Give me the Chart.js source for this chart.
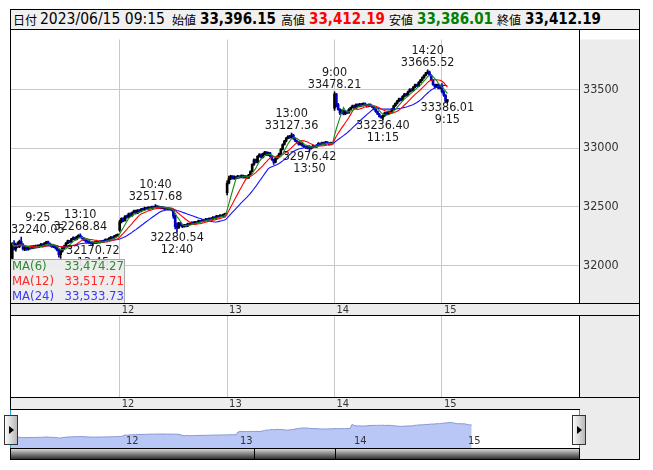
<!DOCTYPE html>
<html><head><meta charset="utf-8">
<script src="https://cdn.jsdelivr.net/npm/chart.js@4.4.0/dist/chart.umd.min.js"></script>
<style>
html,body{margin:0;padding:0;background:#fff;}
#wrap{position:relative;width:653px;height:470px;overflow:hidden;font-family:"DejaVu Sans Condensed","DejaVu Sans",sans-serif;}
#hdr{position:absolute;left:10px;top:9px;width:630px;height:21px;box-sizing:border-box;border:1px solid #000;background:#f0f0f0;}
.hs{position:absolute;top:9px;line-height:21px;white-space:nowrap;color:#000;}
.k{font-family:"Noto Sans CJK JP",sans-serif;font-size:12px;}
.d{font-size:15.5px;}
.v{font-size:15px;font-weight:bold;}
canvas{position:absolute;}
.box{position:absolute;box-sizing:border-box;}
.btn{position:absolute;width:14px;height:30px;box-sizing:border-box;border:1px solid #333;background:linear-gradient(to right,#fafafa,#b8b8b8);}
.btn:after{content:"";position:absolute;left:4px;top:10px;width:0;height:0;border-top:4px solid transparent;border-bottom:4px solid transparent;border-left:5px solid #000;}
</style></head>
<body>
<div id="wrap">
  <div id="hdr"></div>
  <span class="hs k" style="left:13px">日付</span>
  <span class="hs d" id="hDate" style="left:40px"></span>
  <span class="hs k" style="left:172px">始値</span>
  <span class="hs v" id="hO" style="left:200px"></span>
  <span class="hs k" style="left:281px">高値</span>
  <span class="hs v" id="hH" style="left:309px;color:#ff0000"></span>
  <span class="hs k" style="left:389px">安値</span>
  <span class="hs v" id="hL" style="left:417px;color:#008000"></span>
  <span class="hs k" style="left:497px">終値</span>
  <span class="hs v" id="hC" style="left:525px"></span>

  <canvas id="main" width="630" height="287" style="left:10px;top:29px"></canvas>
  <canvas id="sub" width="630" height="94" style="left:10px;top:316px"></canvas>
  <div class="box" style="left:10px;top:410px;width:570px;height:38px;background:#fff;"></div>
  <canvas id="nav" width="570" height="38" style="left:10px;top:410px"></canvas>
  <div class="box" style="left:580px;top:409px;width:60px;height:51px;background:#ececec;border-right:1px solid #000;border-bottom:1px solid #000;"></div>
  <div class="box" style="left:10px;top:410px;width:1px;height:38px;background:#19a8d8;"></div>
  <div class="box" style="left:579px;top:410px;width:1px;height:38px;background:#19a8d8;"></div>
  <div class="box" style="left:10px;top:448px;width:570px;height:12px;border:1px solid #000;background:linear-gradient(to bottom,#d8d8d8 0%,#8a8a8a 45%,#303030 100%);"></div>
  <div class="box" style="left:254px;top:448px;width:1px;height:12px;background:#000;"></div>
  <div class="box" style="left:335px;top:448px;width:1px;height:12px;background:#000;"></div>
  <div class="btn" style="left:4px;top:415px"></div>
  <div class="btn" style="left:572px;top:415px"></div>
</div>
<script>
// ---------- data (5-minute candles: [open, high, low, close]) ----------
const jun09 = [
[32060,32195,32035,32185],[32185,32210,32130,32140],[32140,32190,32120,32180],[32180,32200,32150,32160],
[32160,32215,32150,32205],[32205,32240.05,32170,32175],[32175,32185,32130,32140],[32140,32165,32125,32150],
[32150,32160,32128,32135],[32135,32162,32130,32155],[32155,32166,32138,32145],[32145,32168,32140,32160],
[32160,32170,32142,32150],[32150,32172,32146,32165],[32165,32174,32148,32155],[32155,32178,32150,32170],
[32170,32188,32162,32180],[32180,32186,32158,32165],[32165,32195,32160,32190],[32190,32205,32182,32200],
[32200,32206,32178,32185],[32185,32192,32168,32175],[32175,32180,32152,32160],[32160,32172,32150,32165],
[32165,32170,32140,32150],[32150,32156,32122,32130],[32130,32136,32070,32090],[32090,32125,32060,32120],
[32120,32156,32112,32150],[32150,32172,32140,32165],
[32165,32196,32158,32190],[32190,32216,32182,32210],[32210,32214,32192,32200],[32200,32230,32196,32225],
[32225,32242,32218,32235],[32235,32240,32214,32220],[32220,32250,32216,32245],[32245,32262,32238,32255],
[32255,32268.84,32234,32240],[32240,32246,32224,32230],[32230,32236,32210,32215],[32215,32220,32198,32205],
[32205,32212,32194,32200],[32200,32206,32184,32190],[32190,32196,32178,32185],[32185,32200,32170.72,32195],
[32195,32202,32184,32190],[32190,32206,32186,32200],[32200,32205,32188,32195],[32195,32210,32190,32205],
[32205,32210,32194,32200],[32200,32216,32196,32210],[32210,32226,32206,32220],[32220,32224,32208,32215],
[32215,32236,32212,32230],[32230,32246,32226,32240],[32240,32244,32228,32235],[32235,32256,32232,32250],
[32250,32262,32246,32258],[32258,32266,32250,32262]
];
const jun12 = [
[32300,32385,32290,32370],[32370,32405,32362,32400],[32400,32408,32372,32380],[32380,32425,32376,32420],
[32420,32428,32402,32410],[32410,32446,32405,32440],[32440,32448,32418,32425],[32425,32456,32420,32450],
[32450,32470,32444,32465],[32465,32470,32438,32445],[32445,32475,32440,32470],[32470,32476,32452,32460],
[32460,32486,32456,32480],[32480,32488,32468,32475],[32475,32496,32470,32490],[32490,32494,32474,32480],
[32480,32500,32476,32495],[32495,32500,32478,32485],[32485,32506,32480,32500],[32500,32506,32488,32495],
[32495,32517.68,32490,32505],[32505,32510,32484,32490],[32490,32506,32486,32500],[32500,32504,32480,32485],
[32485,32500,32480,32495],[32495,32498,32474,32480],[32480,32495,32476,32490],[32490,32494,32470,32475],
[32475,32486,32470,32480],[32480,32485,32464,32470],
[32470,32474,32400,32420],[32420,32428,32310,32330],[32340,32362,32280.54,32320],[32320,32366,32314,32360],
[32360,32364,32334,32340],[32340,32348,32322,32330],[32330,32350,32326,32345],[32345,32350,32328,32335],
[32335,32360,32330,32355],[32355,32360,32342,32350],[32350,32370,32346,32365],[32365,32370,32352,32360],
[32360,32376,32356,32370],[32370,32374,32358,32365],[32365,32386,32360,32380],[32380,32384,32368,32375],
[32375,32390,32370,32385],[32385,32388,32372,32380],[32380,32400,32376,32395],[32395,32398,32382,32390],
[32390,32406,32386,32400],[32400,32404,32388,32395],[32395,32416,32390,32410],[32410,32414,32398,32405],
[32405,32426,32400,32420],[32420,32424,32408,32415],[32415,32432,32410,32425],[32425,32430,32412,32420],
[32420,32440,32416,32435],[32435,32446,32428,32440]
];
const jun13 = [
[32620,32720,32600,32700],[32700,32760,32694,32740],[32740,32768,32730,32760],[32760,32766,32734,32740],
[32740,32762,32732,32755],[32755,32760,32736,32745],[32745,32768,32740,32760],[32760,32764,32742,32750],
[32750,32772,32746,32765],[32765,32770,32744,32750],[32750,32766,32744,32760],[32760,32764,32738,32745],
[32745,32776,32740,32770],[32770,32806,32764,32800],[32800,32866,32796,32860],[32860,32908,32852,32900],
[32900,32906,32872,32880],[32880,32936,32874,32930],[32930,32952,32922,32945],[32945,32950,32914,32920],
[32920,32956,32916,32950],[32950,32972,32944,32965],[32965,32970,32934,32940],[32940,32966,32934,32960],
[32960,32964,32924,32930],[32930,32936,32894,32900],[32900,32906,32860,32880],[32880,32916,32874,32910],
[32910,32936,32904,32930],[32930,32956,32924,32950],
[32950,32996,32944,32990],[32990,33036,32984,33030],[33030,33066,33024,33060],[33060,33090,33052,33085],
[33085,33106,33078,33100],[33100,33108,33082,33090],[33090,33127.36,33086,33110],[33110,33116,33074,33080],
[33080,33086,33054,33060],[33060,33066,33042,33050],[33050,33056,33024,33030],[33030,33046,33024,33040],
[33040,33046,33014,33020],[33020,33026,33004,33010],[33010,33016,32994,33000],[33000,33020,32992,33015],
[33015,33020,32976.42,32995],[32995,33010,32990,33005],[33005,33026,33000,33020],[33020,33024,33004,33010],
[33010,33030,33006,33025],[33025,33046,33020,33040],[33040,33044,33024,33030],[33030,33050,33026,33045],
[33045,33050,33030,33035],[33035,33056,33030,33050],[33050,33054,33034,33040],[33040,33046,33024,33030],
[33030,33050,33026,33045],[33045,33050,33034,33040]
];
const jun14 = [
[33340,33478.21,33320,33460],[33460,33466,33350,33370],[33370,33380,33322,33330],[33330,33336,33285,33300],
[33300,33326,33292,33320],[33320,33326,33282,33290],[33290,33316,33284,33310],[33310,33316,33292,33300],
[33300,33336,33296,33330],[33330,33350,33324,33345],[33345,33366,33340,33360],[33360,33366,33334,33340],
[33340,33376,33336,33370],[33370,33376,33348,33355],[33355,33380,33350,33375],[33375,33380,33354,33360],
[33360,33386,33356,33380],[33380,33386,33360,33365],[33365,33370,33348,33355],[33355,33376,33350,33370],
[33370,33376,33354,33360],[33360,33366,33344,33350],[33350,33356,33324,33330],[33330,33336,33304,33310],
[33310,33316,33284,33290],[33290,33296,33264,33270],[33270,33276,33252,33260],[33260,33282,33236.40,33275],
[33275,33306,33270,33300],[33300,33306,33284,33290],
[33290,33316,33284,33310],[33310,33316,33294,33300],[33300,33336,33296,33330],[33330,33366,33324,33360],
[33360,33386,33354,33380],[33380,33406,33374,33400],[33400,33426,33394,33420],[33420,33426,33402,33410],
[33410,33446,33404,33440],[33440,33466,33434,33460],[33460,33466,33442,33450],[33450,33486,33444,33480],
[33480,33506,33474,33500],[33500,33506,33482,33490],[33490,33526,33484,33520],[33520,33546,33514,33540],
[33540,33546,33522,33530],[33530,33566,33524,33560],[33560,33586,33554,33580],[33580,33606,33574,33600],
[33600,33626,33594,33620],[33620,33646,33614,33640],[33640,33665.52,33632,33650],[33650,33656,33614,33620],
[33620,33626,33574,33580],[33580,33586,33534,33540],[33540,33546,33510,33520],[33520,33546,33514,33540],
[33540,33546,33504,33510],[33510,33536,33504,33530]
];
const jun15 = [
[33530,33550,33470,33480],[33480,33490,33440,33450],[33450,33456,33395,33400],[33396.15,33412.19,33386.01,33412.19]
];
const dayLabels = ['12','13','14','15'];
const headerDate = '2023/06/15 09:15';
const yTicks = [32000, 32500, 33000, 33500];
const pivotBars   = [5, 38, 45, 80, 92, 156, 166, 180, 207, 232, 243];
const pivotTimes  = ['9:25','13:10','13:45','10:40','12:40','13:00','13:50','9:00','11:15','14:20','9:15'];
const pivotPrices = [32240.05,32268.84,32170.72,32517.68,32280.54,33127.36,32976.42,33478.21,33236.40,33665.52,33386.01];
const pivotKinds  = ['H','H','L','H','L','H','L','H','L','H','L'];
const maPeriods = [6, 12, 24];
const maNames = ['MA(6)','MA(12)','MA(24)'];
const maLegendValues = ['33,474.27','33,517.71','33,533.73'];

// ---------- derived ----------
const days = [jun09, jun12, jun13, jun14, jun15];
const candles = [].concat(...days);
const dayStarts = [];
{ let n = 0; days.forEach((d, k) => { if (k > 0) dayStarts.push(n); n += d.length; }); }
const closes = candles.map(c => c[3]);
function movingAverage(p) {
  return closes.map((_, i) => {
    const s = closes.slice(Math.max(0, i - p + 1), i + 1);
    return s.reduce((a, b) => a + b, 0) / s.length;
  });
}
const maColors = ['#168a16', '#ff0000', '#1414ff'];
const maTextColors = ['#2f8a2f', '#ff2a2a', '#3a3aff'];
const upColor = '#000000', downColor = '#0000c0';
const candleColor = candles.map(c => c[3] >= c[0] ? upColor : downColor);

// header
const last = candles[candles.length - 1];
const fmt = v => v.toLocaleString('en-US', {minimumFractionDigits: 2, maximumFractionDigits: 2});
document.getElementById('hDate').textContent = headerDate;
document.getElementById('hO').textContent = fmt(last[0]);
document.getElementById('hH').textContent = fmt(last[1]);
document.getElementById('hL').textContent = fmt(last[2]);
document.getElementById('hC').textContent = fmt(last[3]);

const FONT = '"DejaVu Sans Condensed","DejaVu Sans",sans-serif';

// ---------- shared panel plugin ----------
function panelPlugin(opts) {
  return {
    id: 'panel',
    beforeDraw(chart) {
      const {ctx, chartArea: ca, width, height} = chart;
      ctx.save();
      ctx.fillStyle = '#fff'; ctx.fillRect(0, 0, width, height);
      ctx.fillStyle = '#ececec';
      ctx.fillRect(ca.right, ca.top, width - ca.right, ca.bottom - ca.top);
      ctx.fillRect(0, ca.bottom, width, height - ca.bottom);
      ctx.restore();
    },
    afterDraw(chart) {
      const {ctx, chartArea: ca, width, height, scales: {x}} = chart;
      ctx.save();
      ctx.font = '11px ' + FONT; ctx.fillStyle = '#333';
      ctx.textBaseline = 'middle'; ctx.textAlign = 'left';
      dayStarts.forEach((v, k) => ctx.fillText(dayLabels[k], x.getPixelForValue(v) + 2, ca.bottom + 7));
      ctx.strokeStyle = '#000'; ctx.lineWidth = 1;
      ctx.beginPath();
      if (opts.top) { ctx.moveTo(0, 0.5); ctx.lineTo(width, 0.5); }
      ctx.moveTo(0.5, 0); ctx.lineTo(0.5, height);
      ctx.moveTo(width - 0.5, 0); ctx.lineTo(width - 0.5, height);
      ctx.moveTo(Math.round(ca.right) - 0.5, 0); ctx.lineTo(Math.round(ca.right) - 0.5, ca.bottom);
      ctx.moveTo(0, Math.round(ca.bottom) + 0.5); ctx.lineTo(width, Math.round(ca.bottom) + 0.5);
      ctx.moveTo(0, height - 0.5); ctx.lineTo(width, height - 0.5);
      ctx.stroke();
      ctx.restore();
    }
  };
}

const pivotPlugin = {
  id: 'pivots',
  afterDatasetsDraw(chart) {
    const {ctx, chartArea: ca, scales: {x, y}} = chart;
    ctx.save();
    ctx.font = '12.5px ' + FONT;
    ctx.fillStyle = '#1a1a1a';
    ctx.textBaseline = 'middle'; ctx.textAlign = 'left';
    pivotBars.forEach((b, k) => {
      const px = x.getPixelForValue(b), py = y.getPixelForValue(pivotPrices[k]);
      const hi = pivotKinds[k] === 'H';
      const pt = pivotPrices[k].toFixed(2), tt = pivotTimes[k];
      const w1 = ctx.measureText(pt).width, w2 = ctx.measureText(tt).width;
      const bw = Math.max(w1, w2);
      let left = px - bw / 2;
      if (left < ca.left + 1) left = ca.left + 1;
      const cx = left + bw / 2;
      ctx.fillText(pt, cx - w1 / 2, hi ? py - 7.5 : py + 5.5);
      ctx.fillText(tt, cx - w2 / 2, hi ? py - 19.5 : py + 17.5);
    });
    const bx = ca.left, by = ca.bottom - 44, bw = 115, bh = 44;
    ctx.fillStyle = 'rgba(236,236,236,0.92)';
    ctx.fillRect(bx, by, bw, bh);
    ctx.strokeStyle = '#a8a8a8';
    ctx.strokeRect(bx + 0.5, by + 0.5, bw - 1, bh);
    ctx.font = '13px ' + FONT;
    maNames.forEach((n, k) => {
      const ly = by + 8 + k * 15;
      ctx.fillStyle = maTextColors[k];
      ctx.textAlign = 'left'; ctx.fillText(n, bx + 2, ly);
      ctx.textAlign = 'right'; ctx.fillText(maLegendValues[k], bx + bw - 1, ly);
    });
    ctx.restore();
  }
};

const xScaleBase = (min, max) => ({
  type: 'linear', min, max, offset: false,
  grid: {color: '#c8c8c8', drawTicks: false, offset: false},
  border: {display: false},
  ticks: {display: false},
  afterBuildTicks: s => { s.ticks = dayStarts.map(v => ({value: v})); },
  afterFit: s => { s.height = 13; }
});

// ---------- main price chart ----------
const X_MIN = -1.27, X_MAX = 317.09;
new Chart(document.getElementById('main'), {
  data: {
    datasets: [
      ...maPeriods.map((p, k) => ({
        type: 'line', label: maNames[k],
        data: movingAverage(p).map((v, i) => ({x: i, y: v})),
        borderColor: maColors[k], borderWidth: 1.1, pointRadius: 0, tension: 0
      })),
      {
        type: 'bar', label: 'body', grouped: false, barThickness: 2, minBarLength: 1,
        data: candles.map((c, i) => ({x: i, y: [c[0], c[3]]})),
        backgroundColor: candleColor, borderWidth: 0
      },
      {
        type: 'bar', label: 'wick', grouped: false, barThickness: 1,
        data: candles.map((c, i) => ({x: i, y: [c[2], c[1]]})),
        backgroundColor: candleColor, borderWidth: 0
      }
    ]
  },
  options: {
    responsive: false, animation: false, devicePixelRatio: 1,
    layout: {padding: {top: 1, left: 0, right: 0, bottom: 0}},
    plugins: {legend: {display: false}, tooltip: {enabled: false}},
    scales: {
      x: xScaleBase(X_MIN, X_MAX),
      y: {
        type: 'linear', position: 'right', min: 31679, max: 33925, beginAtZero: false,
        grid: {color: '#c8c8c8', drawTicks: false},
        border: {display: false},
        afterBuildTicks: s => { s.ticks = yTicks.map(v => ({value: v})); },
        ticks: {padding: 3, color: '#333', font: {family: FONT, size: 12.5}, callback: v => String(v)},
        afterFit: s => { s.width = 60; }
      }
    }
  },
  plugins: [panelPlugin({top: true}), pivotPlugin]
});

// ---------- empty indicator panel ----------
new Chart(document.getElementById('sub'), {
  type: 'line',
  data: {datasets: [{data: [], pointRadius: 0}]},
  options: {
    responsive: false, animation: false, devicePixelRatio: 1,
    layout: {padding: 0},
    plugins: {legend: {display: false}, tooltip: {enabled: false}},
    scales: {
      x: xScaleBase(X_MIN, X_MAX),
      y: {
        position: 'right', min: 0, max: 1,
        grid: {display: false}, border: {display: false}, ticks: {display: false},
        afterFit: s => { s.width = 60; }
      }
    }
  },
  plugins: [panelPlugin({top: false})]
});

// ---------- navigator ----------
new Chart(document.getElementById('nav'), {
  type: 'line',
  data: {datasets: [{
    data: closes.map((v, i) => ({x: i, y: v})),
    borderColor: '#8796d8', borderWidth: 1, backgroundColor: '#b9c7f6',
    fill: 'start', pointRadius: 0, tension: 0
  }]},
  options: {
    responsive: false, animation: false, devicePixelRatio: 1,
    layout: {padding: 0},
    plugins: {legend: {display: false}, tooltip: {enabled: false}},
    scales: {
      x: {
        type: 'linear', min: 0, max: 300, z: 1,
        grid: {color: '#ffffff', lineWidth: 1.5, drawTicks: false},
        border: {display: false}, ticks: {display: false},
        afterBuildTicks: s => { s.ticks = dayStarts.map(v => ({value: v})); },
        afterFit: s => { s.height = 0; }
      },
      y: {display: false, min: 31100, max: 34900}
    }
  },
  plugins: [{
    id: 'navLabels',
    afterDraw(chart) {
      const {ctx, chartArea: ca, scales: {x}} = chart;
      ctx.save();
      ctx.font = '11px ' + FONT; ctx.fillStyle = '#333';
      ctx.textBaseline = 'alphabetic'; ctx.textAlign = 'left';
      dayStarts.forEach((v, k) => ctx.fillText(dayLabels[k], x.getPixelForValue(v) + 2, ca.bottom - 4));
      ctx.restore();
    }
  }]
});
</script>
</body></html>
